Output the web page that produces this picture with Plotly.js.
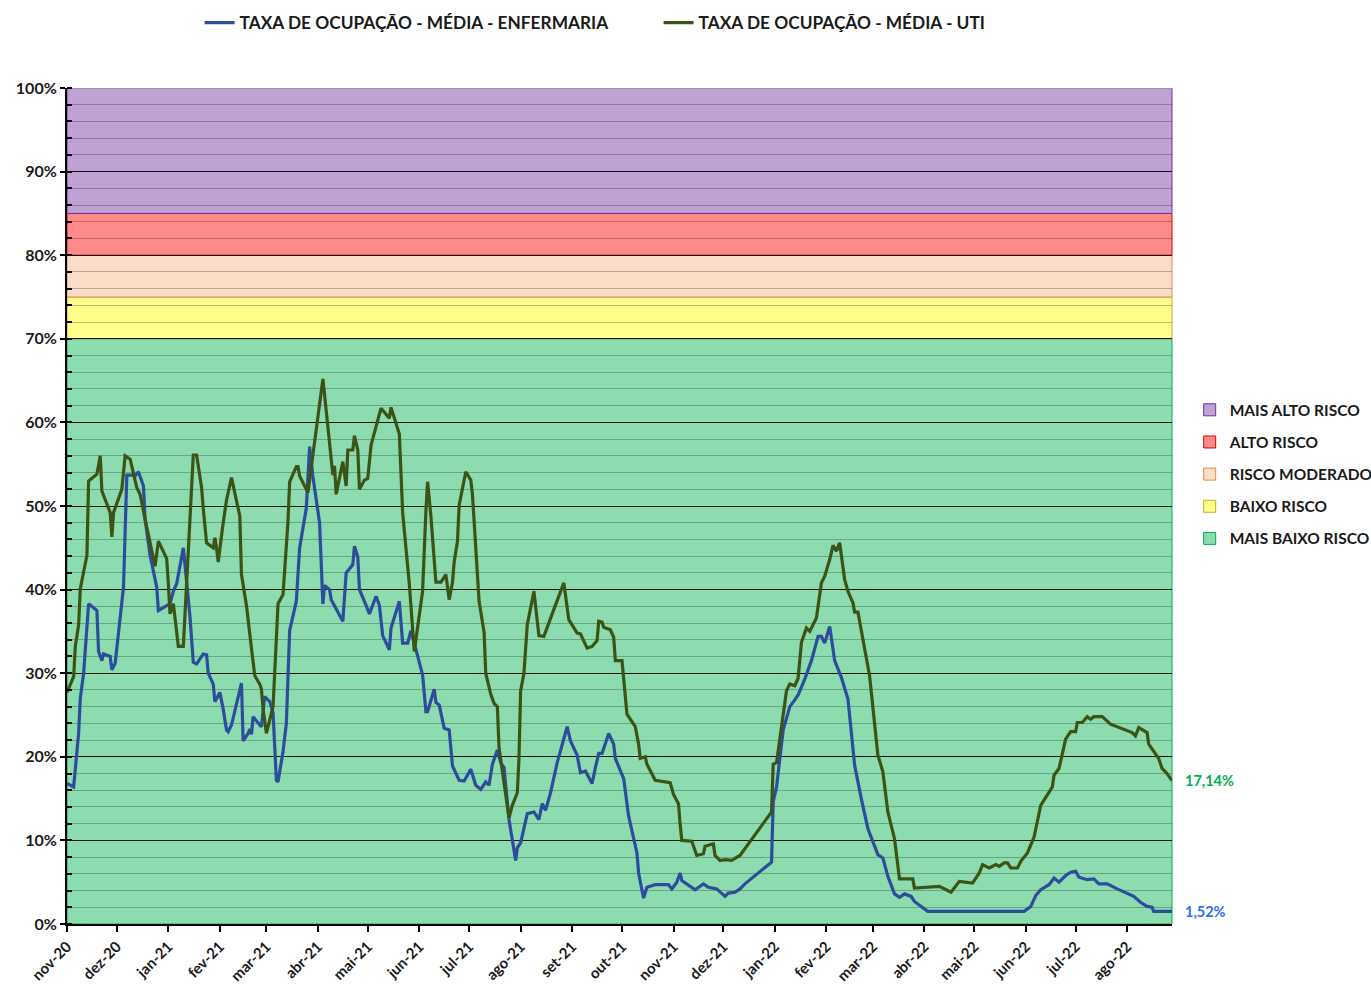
<!DOCTYPE html>
<html lang="pt">
  <head>
    <meta charset="UTF-8" />
    <title>Taxa de ocupação</title>
    <script src="https://cdn.plot.ly/plotly-3.0.1.min.js"></script>
    <style>
      html, body { margin: 0; padding: 0; background: #fff; }
      #myDiv { width: 1371px; height: 986px; }
    </style>
  </head>
  <body>
    <div id="myDiv"></div>
    <script>
      // ENFERMARIA (blue)
      var enfDates = [
        "2020-11-01","2020-11-05","2020-11-08","2020-11-09","2020-11-11","2020-11-14","2020-11-19","2020-11-20","2020-11-22","2020-11-23",
        "2020-11-27","2020-11-28","2020-11-30","2020-12-05","2020-12-07","2020-12-10","2020-12-12","2020-12-14","2020-12-17","2020-12-18",
        "2020-12-21","2020-12-25","2020-12-26","2020-12-30","2021-01-02","2021-01-04","2021-01-06","2021-01-10","2021-01-11","2021-01-14",
        "2021-01-16","2021-01-18","2021-01-22","2021-01-24","2021-01-25","2021-01-28","2021-01-29","2021-02-01","2021-02-03","2021-02-05",
        "2021-02-06","2021-02-08","2021-02-14","2021-02-15","2021-02-18","2021-02-19","2021-02-20","2021-02-21","2021-02-25","2021-02-26",
        "2021-02-28","2021-03-03","2021-03-05","2021-03-07","2021-03-08","2021-03-11","2021-03-13","2021-03-15","2021-03-19","2021-03-21",
        "2021-03-25","2021-03-27","2021-03-29","2021-04-02","2021-04-04","2021-04-05","2021-04-08","2021-04-09","2021-04-16","2021-04-18",
        "2021-04-22","2021-04-23","2021-04-25","2021-04-26","2021-04-30","2021-05-02","2021-05-06","2021-05-08","2021-05-10","2021-05-14",
        "2021-05-15","2021-05-20","2021-05-22","2021-05-25","2021-05-27","2021-06-03","2021-06-05","2021-06-06","2021-06-10","2021-06-11",
        "2021-06-13","2021-06-16","2021-06-19","2021-06-20","2021-06-21","2021-06-25","2021-06-28","2021-07-02","2021-07-05","2021-07-08",
        "2021-07-11","2021-07-13","2021-07-15","2021-07-18","2021-07-20","2021-07-22","2021-07-25","2021-07-29","2021-07-30","2021-08-01",
        "2021-08-05","2021-08-09","2021-08-12","2021-08-14","2021-08-16","2021-08-19","2021-08-23","2021-08-29","2021-08-31","2021-09-04",
        "2021-09-06","2021-09-09","2021-09-13","2021-09-15","2021-09-17","2021-09-19","2021-09-23","2021-09-26","2021-09-27","2021-10-02",
        "2021-10-05","2021-10-10","2021-10-11","2021-10-14","2021-10-16","2021-10-21","2021-10-29","2021-10-31","2021-11-03","2021-11-05",
        "2021-11-06","2021-11-14","2021-11-19","2021-11-22","2021-11-27","2021-12-02","2021-12-04","2021-12-08","2021-12-11","2021-12-14",
        "2021-12-30","2021-12-31","2022-01-02","2022-01-06","2022-01-10","2022-01-13","2022-01-15","2022-01-19","2022-01-23","2022-01-27",
        "2022-01-29","2022-01-31","2022-02-03","2022-02-06","2022-02-10","2022-02-14","2022-02-18","2022-02-22","2022-02-26","2022-03-04",
        "2022-03-07","2022-03-10","2022-03-14","2022-03-17","2022-03-20","2022-03-24","2022-03-26","2022-04-03","2022-05-31","2022-06-04",
        "2022-06-07","2022-06-10","2022-06-15","2022-06-18","2022-06-21","2022-06-25","2022-06-28","2022-07-01","2022-07-03","2022-07-08",
        "2022-07-12","2022-07-15","2022-07-20","2022-07-26","2022-08-05","2022-08-09","2022-08-13","2022-08-16","2022-08-17","2022-08-28"
      ];
      var enfValues = [
        16.8,16.4,22.8,27.0,30.0,38.3,37.5,32.6,31.5,32.3,
        32.0,30.4,31.2,40.3,53.7,53.7,53.6,54.1,52.4,48.4,
        44.1,40.3,37.5,37.9,38.3,39.8,40.7,45.0,43.0,36.8,
        31.3,31.1,32.3,32.2,30.0,28.7,26.6,27.7,25.7,23.2,
        23.0,23.8,28.8,21.9,22.8,23.3,22.7,24.8,23.8,23.6,
        27.2,26.6,25.3,17.2,17.0,20.6,24.0,35.1,38.6,45.0,
        49.7,57.1,53.5,48.0,38.3,40.5,40.0,38.8,36.2,42.0,
        43.0,45.2,43.9,40.0,38.1,37.1,39.2,38.1,34.5,32.8,
        35.4,38.6,33.6,33.6,35.1,29.8,25.4,25.4,28.1,26.5,
        26.2,23.4,23.2,21.1,18.9,17.2,17.1,18.5,16.6,16.1,
        17.0,16.6,19.1,20.8,19.3,18.7,12.5,7.6,9.1,9.7,
        13.2,13.4,12.5,14.4,13.6,15.7,19.3,23.6,21.9,20.2,
        18.1,18.3,16.8,18.7,20.4,20.4,22.8,21.5,19.8,17.4,
        12.9,8.5,6.1,3.1,4.4,4.7,4.7,4.2,5.0,6.1,
        5.2,4.1,4.8,4.4,4.2,3.3,3.7,3.8,4.2,4.8,
        7.4,14.6,16.4,23.2,26.0,26.8,27.4,29.3,31.5,34.4,
        34.4,33.6,35.6,31.5,29.5,26.9,19.0,15.0,11.4,8.3,
        7.9,5.7,3.6,3.2,3.6,3.3,2.7,1.52,1.52,2.1,
        3.4,4.1,4.7,5.5,5.0,5.8,6.2,6.3,5.6,5.3,
        5.4,4.8,4.8,4.2,3.3,2.6,2.1,2.0,1.52,1.52
      ];

      // UTI (green)
      var utiDates = [
        "2020-11-01","2020-11-05","2020-11-06","2020-11-08","2020-11-09","2020-11-13","2020-11-14","2020-11-19","2020-11-21","2020-11-22",
        "2020-11-27","2020-11-28","2020-11-29","2020-12-04","2020-12-06","2020-12-09","2020-12-13","2020-12-15","2020-12-18","2020-12-24",
        "2020-12-26","2020-12-31","2021-01-01","2021-01-02","2021-01-04","2021-01-05","2021-01-07","2021-01-10","2021-01-13","2021-01-15",
        "2021-01-16","2021-01-18","2021-01-21","2021-01-22","2021-01-24","2021-01-28","2021-01-29","2021-01-30","2021-01-31","2021-02-03",
        "2021-02-05","2021-02-08","2021-02-13","2021-02-14","2021-02-17","2021-02-20","2021-02-22","2021-02-25","2021-02-26","2021-02-27",
        "2021-03-01","2021-03-05","2021-03-08","2021-03-11","2021-03-14","2021-03-15","2021-03-19","2021-03-20","2021-03-21","2021-03-26",
        "2021-03-31","2021-04-04","2021-04-07","2021-04-10","2021-04-11","2021-04-12","2021-04-16","2021-04-18","2021-04-19","2021-04-22",
        "2021-04-23","2021-04-25","2021-04-26","2021-04-29","2021-05-01","2021-05-03","2021-05-09","2021-05-14","2021-05-15","2021-05-20",
        "2021-05-22","2021-05-26","2021-05-29","2021-06-03","2021-06-05","2021-06-06","2021-06-08","2021-06-10","2021-06-11","2021-06-14",
        "2021-06-17","2021-06-19","2021-06-21","2021-06-22","2021-06-24","2021-06-25","2021-06-29","2021-07-02","2021-07-03","2021-07-07",
        "2021-07-10","2021-07-11","2021-07-14","2021-07-16","2021-07-18","2021-07-19","2021-07-22","2021-07-25","2021-07-27","2021-07-30",
        "2021-07-31","2021-08-01","2021-08-03","2021-08-05","2021-08-09","2021-08-12","2021-08-15","2021-08-16","2021-08-20","2021-08-27",
        "2021-08-30","2021-09-04","2021-09-06","2021-09-10","2021-09-13","2021-09-16","2021-09-17","2021-09-19","2021-09-20","2021-09-24",
        "2021-09-26","2021-09-27","2021-10-01","2021-10-04","2021-10-09","2021-10-11","2021-10-12","2021-10-15","2021-10-16","2021-10-21",
        "2021-10-30","2021-11-01","2021-11-04","2021-11-05","2021-11-06","2021-11-12","2021-11-15","2021-11-19","2021-11-20","2021-11-25",
        "2021-11-26","2021-11-29","2021-12-02","2021-12-06","2021-12-11","2021-12-30","2021-12-31","2022-01-02","2022-01-05","2022-01-08",
        "2022-01-10","2022-01-13","2022-01-15","2022-01-17","2022-01-20","2022-01-22","2022-01-26","2022-01-29","2022-01-31","2022-02-03",
        "2022-02-05","2022-02-07","2022-02-09","2022-02-12","2022-02-14","2022-02-17","2022-02-18","2022-02-20","2022-02-27","2022-03-04",
        "2022-03-07","2022-03-10","2022-03-14","2022-03-17","2022-03-25","2022-03-26","2022-04-10","2022-04-17","2022-04-22","2022-04-30",
        "2022-05-04","2022-05-06","2022-05-10","2022-05-14","2022-05-16","2022-05-19","2022-05-21","2022-05-23","2022-05-27","2022-05-29",
        "2022-06-02","2022-06-06","2022-06-10","2022-06-13","2022-06-17","2022-06-18","2022-06-21","2022-06-25","2022-06-28","2022-07-01",
        "2022-07-02","2022-07-05","2022-07-08","2022-07-10","2022-07-12","2022-07-17","2022-07-22","2022-08-04","2022-08-06","2022-08-08",
        "2022-08-13","2022-08-14","2022-08-17","2022-08-20","2022-08-22","2022-08-25","2022-08-28"
      ];
      var utiValues = [
        27.7,29.6,33.2,35.8,40.1,44.1,53.0,53.8,56.0,51.8,
        49.2,46.3,49.2,52.0,56.0,55.6,52.2,51.4,48.4,42.8,
        45.8,43.7,40.7,37.1,38.3,36.8,33.2,33.2,44.1,52.2,
        56.1,56.1,52.2,49.7,45.6,45.0,46.2,45.0,43.3,48.0,
        50.7,53.4,48.8,41.8,38.1,33.0,29.7,28.7,28.1,25.7,
        22.8,26.0,38.3,39.4,48.2,52.9,54.7,54.7,53.6,51.6,
        59.1,65.2,59.5,53.7,54.8,51.4,55.3,52.4,56.7,56.7,
        58.4,56.7,52.0,53.1,53.3,57.3,61.7,60.5,61.8,58.6,
        49.2,40.7,32.6,39.8,49.4,52.9,48.8,44.1,40.9,40.9,
        41.8,38.8,40.9,43.3,45.8,50.1,54.1,53.1,51.4,38.6,
        34.9,30.0,27.5,26.4,26.0,21.1,16.6,12.7,14.2,15.7,
        19.8,27.9,30.0,35.8,39.8,34.5,34.4,34.9,37.1,40.8,
        36.4,34.8,34.7,33.0,33.2,33.9,36.2,36.1,35.5,35.2,
        34.3,31.5,31.5,25.1,23.6,21.5,19.8,20.0,19.1,17.2,
        16.9,15.5,14.4,11.9,10.0,9.9,8.2,8.4,9.3,9.6,
        8.2,7.6,7.7,7.6,8.2,13.4,19.1,19.3,23.6,27.9,
        28.7,28.5,29.4,33.7,35.4,35.0,36.6,40.8,41.6,43.6,
        45.3,44.6,45.6,41.2,39.8,38.4,37.3,37.3,29.7,20.2,
        18.2,13.4,10.2,5.4,5.4,4.3,4.5,3.8,5.1,4.9,
        6.1,7.1,6.7,7.1,6.9,7.3,7.3,6.7,6.7,7.5,
        8.5,10.4,14.2,15.2,16.4,17.8,18.6,22.1,23.0,23.0,
        24.1,24.1,24.8,24.5,24.8,24.8,23.9,22.9,22.5,23.5,
        22.9,21.5,20.6,19.8,18.6,18.0,17.14
      ];

      // risk bands (percent)
      var bandNames = ["MAIS BAIXO RISCO", "BAIXO RISCO", "RISCO MODERADO", "ALTO RISCO", "MAIS ALTO RISCO"];
      var bandLow = [0, 70, 75, 80, 85];
      var bandHigh = [70, 75, 80, 85, 100];
      var bandFill = ["#8ddcb0", "#ffff8c", "#fbdcc7", "#ff8a8a", "#bea2d3"];
      var bandLine = ["#00b050", "#d6a41c", "#e58a50", "#e00000", "#7030a0"];

      var monthTicks = [
        "2020-11-01","2020-12-01","2021-01-01","2021-02-01","2021-03-01","2021-04-01","2021-05-01","2021-06-01",
        "2021-07-01","2021-08-01","2021-09-01","2021-10-01","2021-11-01","2021-12-01","2022-01-01","2022-02-01",
        "2022-03-01","2022-04-01","2022-05-01","2022-06-01","2022-07-01","2022-08-01"
      ];
      var monthLabels = [
        "nov-20","dez-20","jan-21","fev-21","mar-21","abr-21","mai-21","jun-21",
        "jul-21","ago-21","set-21","out-21","nov-21","dez-21","jan-22","fev-22",
        "mar-22","abr-22","mai-22","jun-22","jul-22","ago-22"
      ];

      var font = { family: "Lato, 'Open Sans', sans-serif", weight: "bold", color: "#1a1a1a" };
      var fmt = (v) => v.toFixed(2).replace(".", ",") + "%";

      var data = [
        {
          name: "TAXA DE OCUPAÇÃO - MÉDIA - ENFERMARIA",
          x: enfDates, y: enfValues, mode: "lines",
          line: { color: "#2c4d9c", width: 3.2 },
          legend: "legend",
        },
        {
          name: "TAXA DE OCUPAÇÃO - MÉDIA - UTI",
          x: utiDates, y: utiValues, mode: "lines",
          line: { color: "#3b5416", width: 3.2 },
          legend: "legend",
        },
      ];

      // background bands, drawn below the grid
      var shapes = bandNames.map((name, i) => ({
        type: "rect", layer: "below",
        xref: "paper", x0: 0, x1: 1,
        yref: "y", y0: bandLow[i], y1: bandHigh[i],
        fillcolor: bandFill[i],
        line: { color: bandLine[i], width: 1 },
        name: name, showlegend: true, legend: "legend2",
        legendrank: 100 - i, legendgroup: "b" + i,
      }));
      // thin gray frame on top
      shapes.push({
        type: "line", layer: "below", xref: "paper", x0: 0, x1: 1, yref: "y", y0: 100, y1: 100,
        line: { color: "#a0a0a0", width: 1.5 },
      });

      var annotations = [
        {
          xref: "paper", x: 1, xanchor: "left", xshift: 11,
          yref: "y", y: utiValues[utiValues.length - 1],
          text: fmt(utiValues[utiValues.length - 1]),
          showarrow: false,
          font: Object.assign({}, font, { size: 14.5, color: "#00b050" }),
        },
        {
          xref: "paper", x: 1, xanchor: "left", xshift: 11,
          yref: "y", y: enfValues[enfValues.length - 1],
          text: fmt(enfValues[enfValues.length - 1]),
          showarrow: false,
          font: Object.assign({}, font, { size: 14.5, color: "#2e6ff2" }),
        },
      ];

      var layout = {
        width: 1371, height: 986,
        margin: { l: 67, r: 199, t: 88, b: 62, autoexpand: false },
        paper_bgcolor: "#ffffff",
        plot_bgcolor: "rgba(0,0,0,0)",
        font: font,
        showlegend: true,
        legend: {
          orientation: "h", x: 0.12, xanchor: "left", y: 1.078, yanchor: "middle",
          font: Object.assign({}, font, { size: 17.3 }),
          entrywidth: 414, entrywidthmode: "pixels",
          bgcolor: "rgba(0,0,0,0)",
        },
        legend2: {
          x: 1.016, xanchor: "left", y: 0.538, yanchor: "middle",
          font: Object.assign({}, font, { size: 15.5 }),
          tracegroupgap: 9,
          bgcolor: "rgba(0,0,0,0)",
        },
        xaxis: {
          type: "date",
          range: ["2020-11-01", "2022-08-28"],
          tickmode: "array", tickvals: monthTicks, ticktext: monthLabels,
          tickangle: -45,
          ticks: "outside", ticklen: 6, tickwidth: 2, tickcolor: "#000",
          showline: true, linecolor: "#000", linewidth: 2,
          showgrid: false, zeroline: false,
          tickfont: Object.assign({}, font, { size: 15 }),
        },
        yaxis: {
          range: [0, 100], dtick: 10, ticksuffix: "%",
          ticks: "outside", ticklen: 5, tickwidth: 2, tickcolor: "#000",
          showline: true, linecolor: "#000", linewidth: 2,
          showgrid: true, gridcolor: "rgba(0,0,0,0.85)", gridwidth: 1,
          zeroline: false,
          minor: {
            dtick: 2, showgrid: true, gridcolor: "rgba(0,0,0,0.25)", gridwidth: 1,
            ticks: "inside", ticklen: 5, tickwidth: 2, tickcolor: "#000",
          },
          tickfont: Object.assign({}, font, { size: 16 }),
        },
        shapes: shapes,
        annotations: annotations,
      };

      Plotly.newPlot("myDiv", data, layout, { displayModeBar: false, staticPlot: true });
    </script>
  </body>
</html>
